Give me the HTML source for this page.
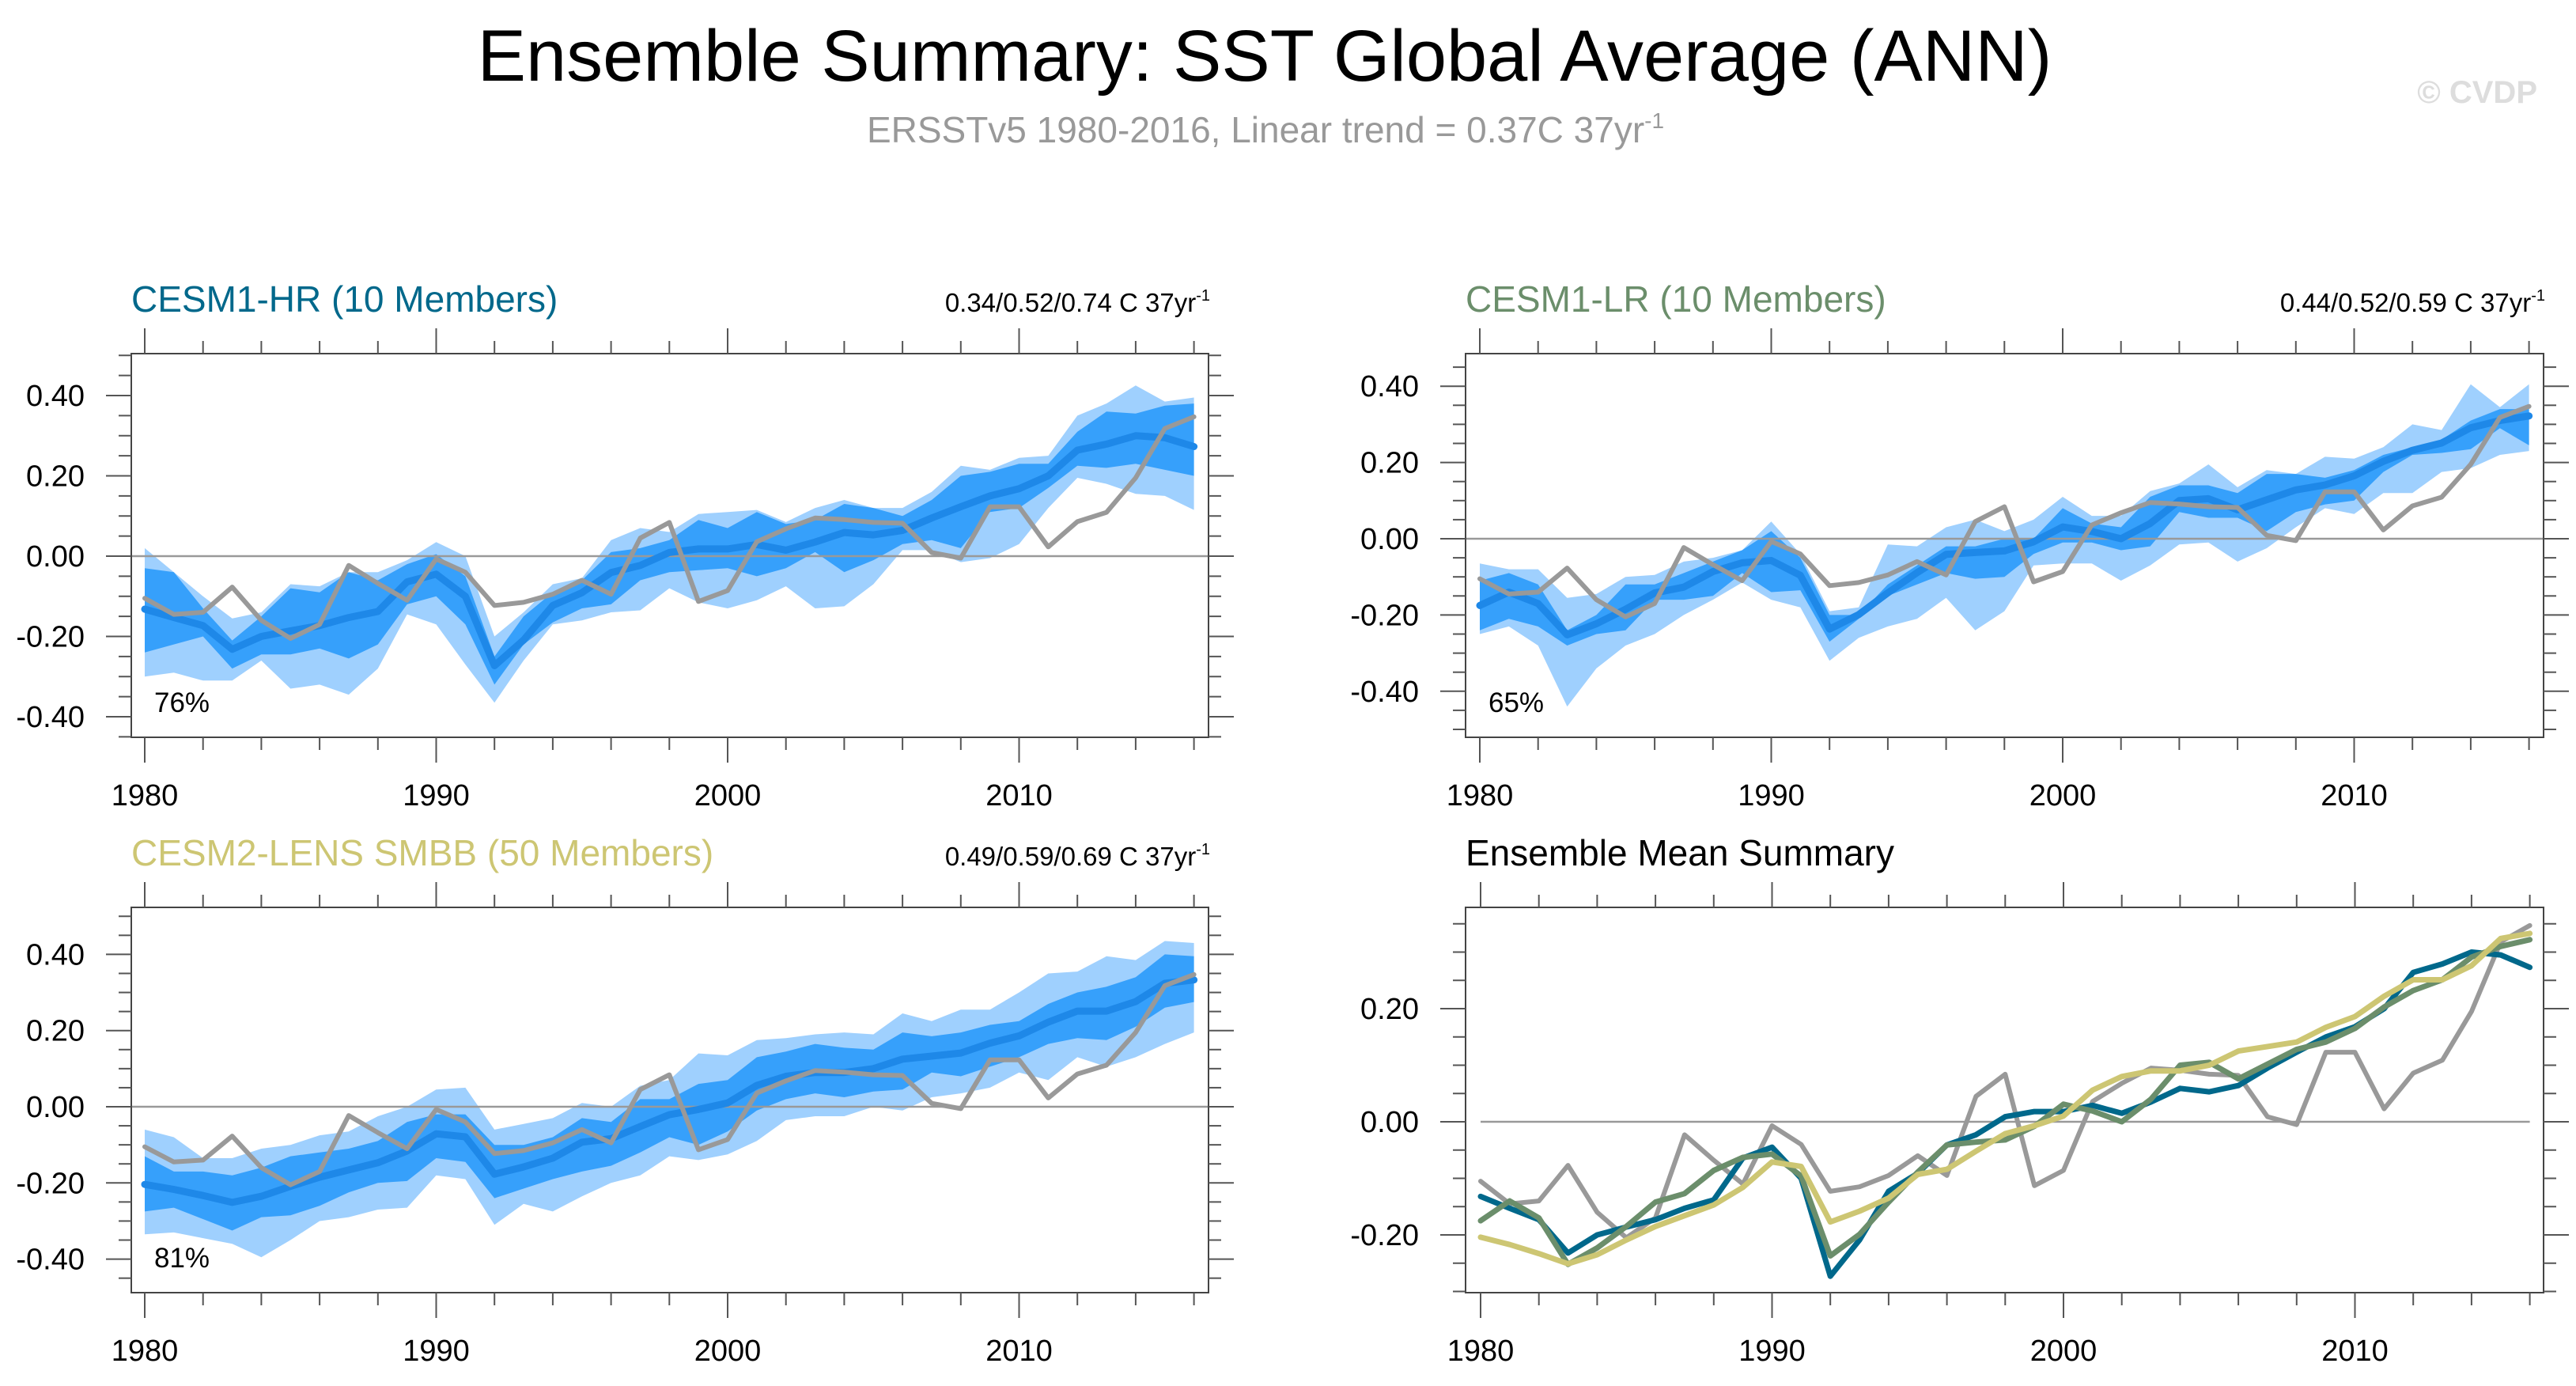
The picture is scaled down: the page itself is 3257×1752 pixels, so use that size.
<!DOCTYPE html>
<html><head><meta charset="utf-8"><style>
html,body{margin:0;padding:0;background:#fff;}
svg{display:block;font-family:"Liberation Sans",sans-serif;}
</style></head><body>
<svg id="chart" width="3257" height="1752" viewBox="0 0 3257 1752" xmlns="http://www.w3.org/2000/svg">
<text x="1599" y="102" font-size="92" text-anchor="middle" fill="#000">Ensemble Summary: SST Global Average (ANN)</text>
<text x="1600" y="180" font-size="46" text-anchor="middle" fill="#999">ERSSTv5 1980-2016, Linear trend = 0.37C 37yr<tspan dy="-18" font-size="28">-1</tspan></text>
<text x="3208" y="130" font-size="40" text-anchor="end" fill="#ddd" font-weight="bold">© CVDP</text>
</svg>
<script>
const years = [];
for (let y = 1980; y <= 2016; y++) years.push(y);
const obs = [-0.105,-0.145,-0.14,-0.077,-0.16,-0.205,-0.17,-0.023,-0.068,-0.11,-0.007,-0.04,-0.123,-0.115,-0.095,-0.06,-0.095,0.045,0.084,-0.113,-0.086,0.036,0.068,0.095,0.091,0.084,0.082,0.009,-0.005,0.123,0.123,0.023,0.086,0.109,0.195,0.318,0.347];
const hrMean = [-0.132,-0.153,-0.173,-0.232,-0.2,-0.186,-0.173,-0.153,-0.138,-0.064,-0.045,-0.1,-0.273,-0.209,-0.123,-0.091,-0.041,-0.023,0.009,0.018,0.018,0.029,0.015,0.035,0.059,0.053,0.064,0.095,0.123,0.15,0.168,0.2,0.264,0.279,0.3,0.295,0.273];
const hrDarkHi = [-0.03,-0.04,-0.13,-0.21,-0.15,-0.08,-0.09,-0.04,-0.06,-0.02,0.005,-0.05,-0.25,-0.15,-0.09,-0.06,0.01,0.02,0.04,0.09,0.07,0.11,0.08,0.09,0.13,0.12,0.1,0.14,0.2,0.21,0.23,0.23,0.31,0.36,0.355,0.375,0.38];
const hrDarkLo = [-0.24,-0.22,-0.2,-0.28,-0.245,-0.245,-0.23,-0.255,-0.22,-0.12,-0.1,-0.17,-0.32,-0.22,-0.165,-0.13,-0.12,-0.06,-0.04,-0.035,-0.03,-0.05,-0.03,0.01,-0.04,-0.01,0.03,0.04,0.02,0.11,0.12,0.17,0.225,0.22,0.23,0.215,0.2];
const hrLightHi = [0.02,-0.04,-0.1,-0.155,-0.14,-0.07,-0.075,-0.04,-0.04,-0.01,0.035,0.0,-0.2,-0.14,-0.07,-0.055,0.04,0.07,0.06,0.105,0.11,0.115,0.085,0.12,0.14,0.12,0.12,0.16,0.225,0.215,0.245,0.25,0.35,0.38,0.425,0.385,0.395];
const hrLightLo = [-0.3,-0.29,-0.31,-0.31,-0.26,-0.33,-0.32,-0.345,-0.28,-0.145,-0.17,-0.27,-0.365,-0.26,-0.17,-0.16,-0.14,-0.135,-0.08,-0.115,-0.13,-0.11,-0.075,-0.13,-0.125,-0.07,0.015,0.015,-0.015,-0.005,0.03,0.12,0.195,0.18,0.155,0.15,0.115];
const lrMean = [-0.175,-0.14,-0.17,-0.252,-0.223,-0.185,-0.142,-0.127,-0.086,-0.063,-0.057,-0.096,-0.237,-0.199,-0.142,-0.089,-0.041,-0.036,-0.032,-0.008,0.031,0.019,0.0,0.04,0.1,0.105,0.076,0.102,0.128,0.141,0.165,0.203,0.232,0.251,0.291,0.31,0.322];
const lrDarkHi = [-0.11,-0.09,-0.12,-0.24,-0.2,-0.12,-0.12,-0.09,-0.06,-0.03,0.02,-0.05,-0.2,-0.2,-0.12,-0.07,-0.02,-0.02,0.0,0.0,0.08,0.04,0.03,0.11,0.14,0.14,0.12,0.17,0.17,0.16,0.18,0.22,0.24,0.26,0.31,0.34,0.34];
const lrDarkLo = [-0.24,-0.21,-0.23,-0.28,-0.25,-0.24,-0.16,-0.16,-0.15,-0.09,-0.14,-0.135,-0.27,-0.21,-0.15,-0.12,-0.09,-0.105,-0.1,-0.04,-0.01,-0.01,-0.03,-0.02,0.07,0.055,0.055,0.02,0.07,0.09,0.1,0.175,0.22,0.225,0.235,0.29,0.245];
const lrLightHi = [-0.065,-0.08,-0.08,-0.155,-0.145,-0.1,-0.095,-0.06,-0.05,-0.03,0.045,-0.04,-0.19,-0.18,-0.015,-0.02,0.03,0.05,0.02,0.05,0.11,0.06,0.06,0.125,0.145,0.195,0.135,0.18,0.17,0.215,0.21,0.24,0.3,0.285,0.405,0.345,0.405];
const lrLightLo = [-0.25,-0.23,-0.28,-0.44,-0.34,-0.28,-0.25,-0.2,-0.16,-0.115,-0.16,-0.18,-0.32,-0.26,-0.23,-0.21,-0.155,-0.24,-0.19,-0.07,-0.065,-0.065,-0.11,-0.07,-0.015,-0.01,-0.06,-0.025,0.03,0.08,0.065,0.12,0.12,0.175,0.185,0.22,0.23];
const c2Mean = [-0.204,-0.217,-0.233,-0.251,-0.235,-0.209,-0.185,-0.166,-0.147,-0.116,-0.071,-0.079,-0.177,-0.158,-0.135,-0.093,-0.084,-0.052,-0.021,-0.007,0.01,0.056,0.08,0.09,0.09,0.1,0.125,0.133,0.141,0.167,0.186,0.222,0.251,0.251,0.276,0.324,0.333];
const c2DarkHi = [-0.13,-0.17,-0.17,-0.18,-0.16,-0.13,-0.12,-0.11,-0.09,-0.04,-0.02,-0.02,-0.1,-0.1,-0.08,-0.03,-0.04,0.02,0.02,0.06,0.07,0.13,0.145,0.165,0.155,0.15,0.195,0.185,0.195,0.215,0.225,0.27,0.3,0.315,0.34,0.4,0.395];
const c2DarkLo = [-0.275,-0.265,-0.295,-0.325,-0.29,-0.285,-0.26,-0.225,-0.2,-0.195,-0.135,-0.145,-0.24,-0.215,-0.19,-0.17,-0.155,-0.12,-0.08,-0.1,-0.065,-0.01,0.02,0.035,0.025,0.04,0.045,0.09,0.08,0.105,0.13,0.165,0.18,0.175,0.21,0.26,0.275];
const c2LightHi = [-0.06,-0.08,-0.135,-0.135,-0.11,-0.1,-0.075,-0.065,-0.025,0.0,0.045,0.05,-0.06,-0.045,-0.03,0.01,0.0,0.055,0.07,0.14,0.135,0.175,0.18,0.19,0.195,0.19,0.245,0.225,0.255,0.255,0.3,0.35,0.355,0.395,0.385,0.435,0.43];
const c2LightLo = [-0.335,-0.33,-0.345,-0.36,-0.395,-0.35,-0.3,-0.29,-0.27,-0.265,-0.18,-0.19,-0.31,-0.255,-0.275,-0.235,-0.2,-0.18,-0.13,-0.14,-0.125,-0.09,-0.035,-0.025,-0.025,0.0,-0.01,0.025,0.035,0.05,0.09,0.07,0.13,0.105,0.13,0.165,0.195];
const xTickLabels = ["1980","1990","2000","2010"];
const yTickLabelsFull = ["-0.40","-0.20","0.00","0.20","0.40"];
const yTickLabelsSummary = ["-0.20","0.00","0.20"];

const svg = document.getElementById('chart');
const NS = 'http://www.w3.org/2000/svg';
function mk(tag, attrs, parent) {
  const e = document.createElementNS(NS, tag);
  for (const k in attrs) e.setAttribute(k, attrs[k]);
  (parent || svg).appendChild(e);
  return e;
}

function panel(cfg) {
  const g = mk('g', {});
  
  
  const xs = y => cfg.x0 + (y - 1980) * 36.85;
  const ys = v => cfg.yz - v * cfg.k;
  const t = mk('text', {x: cfg.bl, y: cfg.bt - 53, 'font-size': 46, fill: cfg.titleColor}, g);
  t.textContent = cfg.title;
  
  
  if (cfg.trend) {
    const tr = mk('text', {x: cfg.br + 2, y: cfg.bt - 53, 'font-size': 33, 'text-anchor': 'end', fill: '#000'}, g);
    
    
    tr.appendChild(document.createTextNode(cfg.trend));
    const sp = mk('tspan', {dy: -14, 'font-size': 20}, tr);
    sp.textContent = '-1';
  }
  function band(hi, lo, color, nm) {
    let d = '';
    years.forEach((y, i) => { d += (i ? 'L' : 'M') + xs(y).toFixed(1) + ',' + ys(hi[i]).toFixed(1); });
    for (let i = years.length - 1; i >= 0; i--) d += 'L' + xs(years[i]).toFixed(1) + ',' + ys(lo[i]).toFixed(1);
    const p = mk('path', {d: d + 'Z', fill: color}, g);
    
    
  }
  if (cfg.lightHi) band(cfg.lightHi, cfg.lightLo, '#9fd0fe', 'spread-band-light');
  if (cfg.darkHi) band(cfg.darkHi, cfg.darkLo, '#36a0fb', 'spread-band-dark');
  const z = mk('line', {x1: cfg.zeroFull ? cfg.bl : xs(1980), x2: cfg.zeroFull ? cfg.br : xs(2016), y1: ys(0), y2: ys(0), stroke: '#999', 'stroke-width': 2.5}, g);
  
  
  function line(vals, color, w, nm) {
    let d = '';
    years.forEach((y, i) => { d += (i ? 'L' : 'M') + xs(y).toFixed(1) + ',' + ys(vals[i]).toFixed(1); });
    const p = mk('path', {d: d, fill: 'none', stroke: color, 'stroke-width': w, 'stroke-linejoin': 'round', 'stroke-linecap': 'round'}, g);
    
    
  }
  cfg.lines.forEach(l => line(l.v, l.c, l.w, l.n));
  const b = mk('rect', {x: cfg.bl, y: cfg.bt, width: cfg.br - cfg.bl, height: cfg.bb - cfg.bt, fill: 'none', stroke: '#444', 'stroke-width': 2}, g);
  
  
  years.forEach(y => {
    if (y % 2 !== 0) return;
    const major = (y % 10 === 0);
    const L = major ? 32 : 16;
    mk('line', {x1: xs(y), x2: xs(y), y1: cfg.bt, y2: cfg.bt - L, stroke: '#555', 'stroke-width': 2}, g);
    mk('line', {x1: xs(y), x2: xs(y), y1: cfg.bb, y2: cfg.bb + L, stroke: '#555', 'stroke-width': 2}, g);
  });
  xTickLabels.forEach(lbl => {
    const tx = mk('text', {x: xs(+lbl), y: cfg.bb + 86, 'font-size': 38, 'text-anchor': 'middle', fill: '#000'}, g);
    tx.textContent = lbl;
    
    
  });
  for (let m = Math.ceil(cfg.ymin / 0.05 - 1e-6); m * 0.05 <= cfg.ymax + 1e-6; m++) {
    const v = m * 0.05, py = ys(v);
    if (py < cfg.bt - 1 || py > cfg.bb + 1) continue;
    const major = Math.abs(Math.round(v * 100) % 20) === 0;
    const L = major ? 32 : 16;
    mk('line', {x1: cfg.bl, x2: cfg.bl - L, y1: py, y2: py, stroke: '#555', 'stroke-width': 2}, g);
    mk('line', {x1: cfg.br, x2: cfg.br + L, y1: py, y2: py, stroke: '#555', 'stroke-width': 2}, g);
  }
  cfg.yLabels.forEach(lbl => {
    const ty = mk('text', {x: cfg.bl - 59, y: ys(+lbl) + 13, 'font-size': 38, 'text-anchor': 'end', fill: '#000'}, g);
    ty.textContent = lbl;
    
    
  });
  if (cfg.pct) {
    const pc = mk('text', {x: cfg.bl + 29, y: cfg.bb - 32, 'font-size': 35, fill: '#000'}, g);
    pc.textContent = cfg.pct;
    
    
  }
}

panel({name: 'panel-cesm1-hr', title: 'CESM1-HR (10 Members)', titleColor: '#00688b', trend: '0.34/0.52/0.74 C 37yr', pct: '76%',
  x0: 183, bl: 166, br: 1528, bt: 447, bb: 932, yz: 703, k: 507.5, ymin: -0.5, ymax: 0.55, zeroFull: true,
  lightHi: hrLightHi, lightLo: hrLightLo, darkHi: hrDarkHi, darkLo: hrDarkLo, yLabels: yTickLabelsFull,
  lines: [{v: hrMean, c: '#1e88e8', w: 9, n: 'ensemble-mean-line'}, {v: obs, c: '#999', w: 6, n: 'observed-line'}]});
panel({name: 'panel-cesm1-lr', title: 'CESM1-LR (10 Members)', titleColor: '#6b8e6b', trend: '0.44/0.52/0.59 C 37yr', pct: '65%',
  x0: 1871, bl: 1853, br: 3216, bt: 447, bb: 932, yz: 681, k: 482, ymin: -0.55, ymax: 0.5, zeroFull: true,
  lightHi: lrLightHi, lightLo: lrLightLo, darkHi: lrDarkHi, darkLo: lrDarkLo, yLabels: yTickLabelsFull,
  lines: [{v: lrMean, c: '#1e88e8', w: 9, n: 'ensemble-mean-line'}, {v: obs, c: '#999', w: 6, n: 'observed-line'}]});
panel({name: 'panel-cesm2-lens', title: 'CESM2-LENS SMBB (50 Members)', titleColor: '#cdc673', trend: '0.49/0.59/0.69 C 37yr', pct: '81%',
  x0: 183, bl: 166, br: 1528, bt: 1147, bb: 1634, yz: 1399, k: 481.5, ymin: -0.5, ymax: 0.55, zeroFull: true,
  lightHi: c2LightHi, lightLo: c2LightLo, darkHi: c2DarkHi, darkLo: c2DarkLo, yLabels: yTickLabelsFull,
  lines: [{v: c2Mean, c: '#1e88e8', w: 9, n: 'ensemble-mean-line'}, {v: obs, c: '#999', w: 6, n: 'observed-line'}]});
panel({name: 'panel-ensemble-mean-summary', title: 'Ensemble Mean Summary', titleColor: '#000',
  x0: 1872, bl: 1853, br: 3216, bt: 1147, bb: 1634, yz: 1418, k: 715, ymin: -0.35, ymax: 0.4, zeroFull: false,
  yLabels: yTickLabelsSummary,
  lines: [{v: obs, c: '#999', w: 6, n: 'observed-line'}, {v: hrMean, c: '#00688b', w: 7, n: 'cesm1-hr-mean-line'},
          {v: lrMean, c: '#6b8e6b', w: 7, n: 'cesm1-lr-mean-line'}, {v: c2Mean, c: '#cdc673', w: 7, n: 'cesm2-lens-mean-line'}]});
</script>
</body></html>
